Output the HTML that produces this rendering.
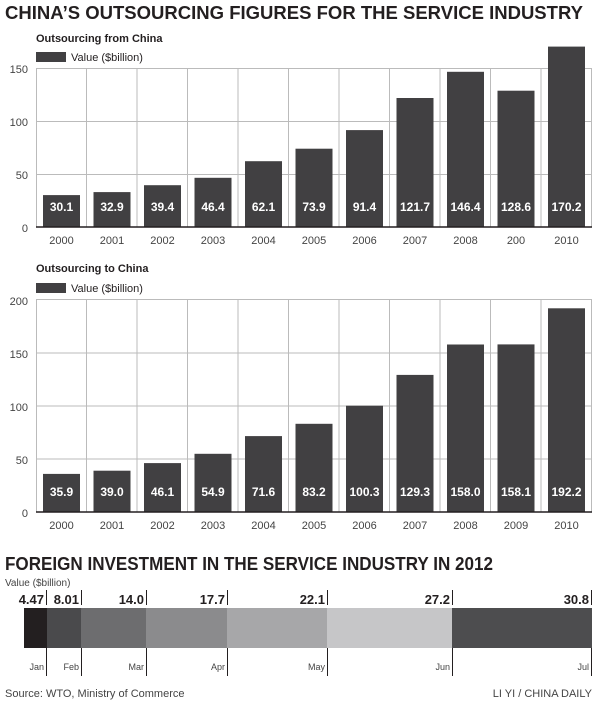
<!DOCTYPE html>
<html><head><style>body{margin:0;background:#fff}svg{display:block;font-family:"Liberation Sans",sans-serif}</style></head>
<body>
<svg width="600" height="704" viewBox="0 0 600 704">
<text x="5" y="19" font-size="18" font-weight="bold" fill="#231f20" textLength="578" lengthAdjust="spacingAndGlyphs">CHINA’S OUTSOURCING FIGURES FOR THE SERVICE INDUSTRY</text>
<g id="c1">
<text x="36" y="42" font-size="11" font-weight="bold" fill="#231f20">Outsourcing from China</text>
<rect x="36" y="52" width="30" height="10" fill="#414042"/>
<text x="71" y="61" font-size="11" fill="#231f20">Value ($billion)</text>
<g stroke="#bbb" stroke-width="1" fill="none">
<rect x="36.5" y="68.5" width="555" height="158.5"/>
<line x1="36" y1="121.5" x2="592" y2="121.5"/><line x1="36" y1="174.5" x2="592" y2="174.5"/>
<line x1="86.5" y1="68" x2="86.5" y2="227"/><line x1="137" y1="68" x2="137" y2="227"/><line x1="187.5" y1="68" x2="187.5" y2="227"/><line x1="238" y1="68" x2="238" y2="227"/><line x1="288.5" y1="68" x2="288.5" y2="227"/><line x1="339" y1="68" x2="339" y2="227"/><line x1="389.5" y1="68" x2="389.5" y2="227"/><line x1="440" y1="68" x2="440" y2="227"/><line x1="490.5" y1="68" x2="490.5" y2="227"/><line x1="541" y1="68" x2="541" y2="227"/>
</g>
<g font-size="11" fill="#444" text-anchor="end"><text x="28" y="73">150</text><text x="28" y="126">100</text><text x="28" y="179">50</text><text x="28" y="232">0</text></g>
<g fill="#414042">
<rect x="43" y="195.1" width="37" height="31.9"/><rect x="93.5" y="192.1" width="37" height="34.9"/><rect x="144" y="185.2" width="37" height="41.8"/><rect x="194.5" y="177.8" width="37" height="49.2"/><rect x="245" y="161.2" width="37" height="65.8"/><rect x="295.5" y="148.7" width="37" height="78.3"/><rect x="346" y="130.1" width="37" height="96.9"/><rect x="396.5" y="98" width="37" height="129"/><rect x="447" y="71.8" width="37" height="155.2"/><rect x="497.5" y="90.7" width="37" height="136.3"/><rect x="548" y="46.6" width="37" height="180.4"/>
</g>
<line x1="36" y1="227" x2="592" y2="227" stroke="#231f20" stroke-width="1.5"/>
<g font-size="12" font-weight="bold" fill="#fff" text-anchor="middle">
<text x="61.5" y="211">30.1</text><text x="112" y="211">32.9</text><text x="162.5" y="211">39.4</text><text x="213" y="211">46.4</text><text x="263.5" y="211">62.1</text><text x="314" y="211">73.9</text><text x="364.5" y="211">91.4</text><text x="415" y="211">121.7</text><text x="465.5" y="211">146.4</text><text x="516" y="211">128.6</text><text x="566.5" y="211">170.2</text>
</g>
<g font-size="11" fill="#444" text-anchor="middle">
<text x="61.5" y="244">2000</text><text x="112" y="244">2001</text><text x="162.5" y="244">2002</text><text x="213" y="244">2003</text><text x="263.5" y="244">2004</text><text x="314" y="244">2005</text><text x="364.5" y="244">2006</text><text x="415" y="244">2007</text><text x="465.5" y="244">2008</text><text x="516" y="244">200</text><text x="566.5" y="244">2010</text>
</g>
</g>
<g id="c2">
<text x="36" y="272" font-size="11" font-weight="bold" fill="#231f20">Outsourcing to China</text>
<rect x="36" y="283" width="30" height="10" fill="#414042"/>
<text x="71" y="292" font-size="11" fill="#231f20">Value ($billion)</text>
<g stroke="#bbb" stroke-width="1" fill="none">
<rect x="36.5" y="299.5" width="555" height="212.5"/>
<line x1="36" y1="353" x2="592" y2="353"/><line x1="36" y1="406" x2="592" y2="406"/><line x1="36" y1="459" x2="592" y2="459"/>
<line x1="86.5" y1="299" x2="86.5" y2="512"/><line x1="137" y1="299" x2="137" y2="512"/><line x1="187.5" y1="299" x2="187.5" y2="512"/><line x1="238" y1="299" x2="238" y2="512"/><line x1="288.5" y1="299" x2="288.5" y2="512"/><line x1="339" y1="299" x2="339" y2="512"/><line x1="389.5" y1="299" x2="389.5" y2="512"/><line x1="440" y1="299" x2="440" y2="512"/><line x1="490.5" y1="299" x2="490.5" y2="512"/><line x1="541" y1="299" x2="541" y2="512"/>
</g>
<g font-size="11" fill="#444" text-anchor="end"><text x="28" y="305">200</text><text x="28" y="358">150</text><text x="28" y="411">100</text><text x="28" y="464">50</text><text x="28" y="517">0</text></g>
<g fill="#414042">
<rect x="43" y="473.9" width="37" height="38.1"/><rect x="93.5" y="470.7" width="37" height="41.3"/><rect x="144" y="463.1" width="37" height="48.9"/><rect x="194.5" y="453.8" width="37" height="58.2"/><rect x="245" y="436.1" width="37" height="75.9"/><rect x="295.5" y="423.8" width="37" height="88.2"/><rect x="346" y="405.7" width="37" height="106.3"/><rect x="396.5" y="374.9" width="37" height="137.1"/><rect x="447" y="344.5" width="37" height="167.5"/><rect x="497.5" y="344.4" width="37" height="167.6"/><rect x="548" y="308.3" width="37" height="203.7"/>
</g>
<line x1="36" y1="512" x2="592" y2="512" stroke="#231f20" stroke-width="1.5"/>
<g font-size="12" font-weight="bold" fill="#fff" text-anchor="middle">
<text x="61.5" y="496">35.9</text><text x="112" y="496">39.0</text><text x="162.5" y="496">46.1</text><text x="213" y="496">54.9</text><text x="263.5" y="496">71.6</text><text x="314" y="496">83.2</text><text x="364.5" y="496">100.3</text><text x="415" y="496">129.3</text><text x="465.5" y="496">158.0</text><text x="516" y="496">158.1</text><text x="566.5" y="496">192.2</text>
</g>
<g font-size="11" fill="#444" text-anchor="middle">
<text x="61.5" y="529">2000</text><text x="112" y="529">2001</text><text x="162.5" y="529">2002</text><text x="213" y="529">2003</text><text x="263.5" y="529">2004</text><text x="314" y="529">2005</text><text x="364.5" y="529">2006</text><text x="415" y="529">2007</text><text x="465.5" y="529">2008</text><text x="516" y="529">2009</text><text x="566.5" y="529">2010</text>
</g>
</g>
<text x="5" y="570" font-size="18" font-weight="bold" fill="#231f20" textLength="488" lengthAdjust="spacingAndGlyphs">FOREIGN INVESTMENT IN THE SERVICE INDUSTRY IN 2012</text>
<text x="5" y="586" font-size="10" fill="#444">Value ($billion)</text>
<rect x="24" y="608" width="23" height="40" fill="#231f20"/>
<rect x="47" y="608" width="34" height="40" fill="#4a4a4c"/>
<rect x="81" y="608" width="65" height="40" fill="#6d6d6f"/>
<rect x="146" y="608" width="81" height="40" fill="#8b8b8d"/>
<rect x="227" y="608" width="100" height="40" fill="#a7a7a9"/>
<rect x="327" y="608" width="125" height="40" fill="#c6c6c8"/>
<rect x="452" y="608" width="140" height="40" fill="#4d4d4f"/>
<g stroke="#231f20" stroke-width="1">
<line x1="46.5" y1="590" x2="46.5" y2="605"/><line x1="81.5" y1="590" x2="81.5" y2="605"/><line x1="146.5" y1="590" x2="146.5" y2="605"/><line x1="227.5" y1="590" x2="227.5" y2="605"/><line x1="327.5" y1="590" x2="327.5" y2="605"/><line x1="452.5" y1="590" x2="452.5" y2="605"/><line x1="591.5" y1="590" x2="591.5" y2="605"/>
<line x1="46.5" y1="648" x2="46.5" y2="676"/><line x1="81.5" y1="648" x2="81.5" y2="676"/><line x1="146.5" y1="648" x2="146.5" y2="676"/><line x1="227.5" y1="648" x2="227.5" y2="676"/><line x1="327.5" y1="648" x2="327.5" y2="676"/><line x1="452.5" y1="648" x2="452.5" y2="676"/><line x1="591.5" y1="648" x2="591.5" y2="676"/>
</g>
<g font-size="13" font-weight="bold" fill="#231f20" text-anchor="end">
<text x="44" y="604">4.47</text><text x="79" y="604">8.01</text><text x="144" y="604">14.0</text><text x="225" y="604">17.7</text><text x="325" y="604">22.1</text><text x="450" y="604">27.2</text><text x="589" y="604">30.8</text>
</g>
<g font-size="9" fill="#444" text-anchor="end">
<text x="44" y="670">Jan</text><text x="79" y="670">Feb</text><text x="144" y="670">Mar</text><text x="225" y="670">Apr</text><text x="325" y="670">May</text><text x="450" y="670">Jun</text><text x="589" y="670">Jul</text>
</g>
<text x="5" y="697" font-size="11" fill="#444">Source: WTO, Ministry of Commerce</text>
<text x="592" y="697" font-size="11" fill="#444" text-anchor="end">LI YI / CHINA DAILY</text>
</svg>
</body></html>
